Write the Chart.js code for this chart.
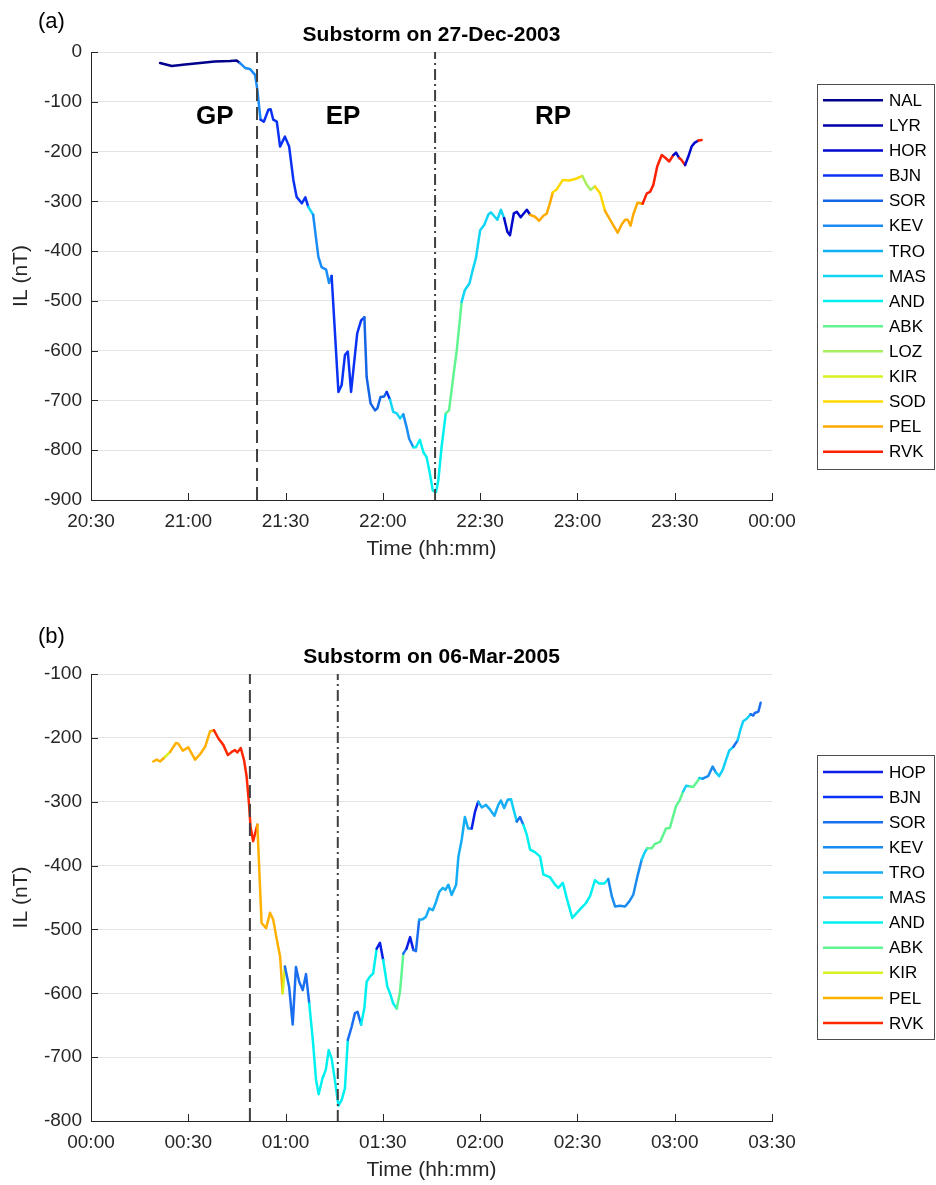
<!DOCTYPE html>
<html><head><meta charset="utf-8">
<script src="https://cdn.jsdelivr.net/npm/chart.js@4.4.1/dist/chart.umd.min.js"></script>
<style>
body{margin:0;background:#fff;width:936px;height:1185px;position:relative;overflow:hidden;font-family:"Liberation Sans",Arial,sans-serif;}
canvas{position:absolute;left:0;}
.lbl{position:absolute;font-size:22px;color:#000;z-index:5;line-height:1;}
</style></head><body>
<canvas id="c1" width="936" height="570" style="top:0"></canvas>
<canvas id="c2" width="936" height="585" style="top:600px"></canvas>
<div class="lbl" style="left:38px;top:10px">(a)</div>
<div class="lbl" style="left:38px;top:625px">(b)</div>
<script>
// ---------- Panel (a): Substorm on 27-Dec-2003 (time = minutes after 20:30) ----------
const titleA = 'Substorm on 27-Dec-2003';
const xTickLabelsA = ['20:30','21:00','21:30','22:00','22:30','23:00','23:30','00:00'];
const stationsA = ['NAL','LYR','HOR','BJN','SOR','KEV','TRO','MAS','AND','ABK','LOZ','KIR','SOD','PEL','RVK'];
const colorsA = ['#00008c','#0000aa','#0008cc','#0a32f5','#1464e6','#1a8cf5','#10b0f5','#10d5f5','#00f0f0','#60f590','#a8f060','#d8f020','#ffd800','#ffaa00','#ff2000'];
const timeA = [21.3,24.9,29,33.6,38.2,42.9,44.9,45.9,47.5,49.0,
50.6,51.3,51.9,52.3,53.3,54.7,55.4,56.2,57.3,58.3,
59.8,61.1,62.4,63.4,65.0,66.1,67.0,68.5,70.1,71.1,
72.5,73.4,74.2,76.3,77.3,78.3,79.2,80.2,82.1,83.3,
84.3,85.0,86.2,87.6,88.3,89.3,90.4,91.2,92.2,93.2,
94.3,95.3,96.3,97.3,98.1,99.4,100.2,101.4,102.5,103.5,
104.5,105.4,106.4,107.1,108.1,109.4,110.4,111.7,112.8,114.3,
115.3,116.7,117.7,118.7,120.0,121.3,122.5,123.3,125.3,126.4,
127.4,128.4,129.2,130.4,131.3,132.5,134.4,135.4,136.9,138.2,
139.5,140.5,141.5,142.4,143.6,145.5,147.5,149.8,151.5,152.9,
154.1,155.4,157.0,158.5,159.8,161.3,162.4,163.6,164.7,165.5,
166.4,167.2,168.5,170.1,171.4,172.4,173.4,174.6,176.0,177.0,
178.3,179.6,180.4,181.4,182.1,183.2,184.2,185.2,186.2,187.3,188.3];
const ilA = [-22,-28,-25,-22,-19,-18,-17,-22,-32,-34,
-46,-76,-113,-136,-140,-116,-115,-136,-140,-190,
-170,-190,-257,-291,-304,-292,-311,-327,-411,-432,
-437,-464,-450,-683,-669,-609,-602,-683,-565,-539,
-533,-653,-706,-720,-716,-693,-692,-683,-698,-723,
-726,-736,-728,-753,-777,-794,-794,-779,-804,-814,
-847,-881,-884,-861,-794,-726,-720,-653,-599,-502,
-478,-465,-438,-414,-358,-347,-327,-322,-337,-317,
-334,-361,-368,-324,-321,-332,-317,-327,-331,-339,
-329,-325,-304,-282,-276,-257,-258,-254,-249,-267,
-277,-270,-284,-319,-334,-351,-363,-347,-337,-337,
-349,-327,-303,-305,-284,-281,-267,-230,-207,-212,
-220,-207,-202,-213,-217,-227,-210,-190,-182,-178,-177];
const stA = [0,0,0,0,0,0,0,5,5,5,
5,5,5,3,3,3,3,3,3,3,
3,3,3,3,3,3,7,5,5,5,
5,5,3,3,3,3,3,3,3,3,
4,4,4,4,4,4,4,3,7,7,
7,7,5,5,5,8,8,8,8,8,
8,8,8,8,8,9,9,9,9,7,
7,7,7,7,7,7,7,7,7,7,
2,2,2,2,2,2,2,13,13,13,
13,13,13,12,12,12,12,12,10,10,
10,12,12,13,13,13,13,13,13,13,
13,13,13,14,14,14,14,14,14,14,
14,2,2,14,14,2,2,2,2,14,14];
const eventsA = [51.2, 106.1];           // growth/expansion onset, recovery onset
const phaseNamesA = ['GP','EP','RP'];
const phaseXA = [38.2, 77.7, 142.5];
const phaseYA = -130;

// ---------- Panel (b): Substorm on 06-Mar-2005 (time = minutes after 00:00) ----------
const titleB = 'Substorm on 06-Mar-2005';
const xTickLabelsB = ['00:00','00:30','01:00','01:30','02:00','02:30','03:00','03:30'];
const stationsB = ['HOP','BJN','SOR','KEV','TRO','MAS','AND','ABK','KIR','PEL','RVK'];
const colorsB = ['#0a1ee6','#0a32f5','#1a6ef0','#1a8cf0','#14acf5','#10d0f8','#00f0f0','#60f590','#d8f020','#ffb000','#ff2800'];
const timeB = [19.2,20.3,21.3,22.8,24.4,26.2,26.9,28.3,30.0,32.1,
33.6,35.2,36.7,37.9,39.3,40.8,42.2,43.4,44.4,45.1,
46.2,47.2,48.0,48.7,49.2,50.0,51.3,52.6,54.0,55.2,
56.2,57.3,58.3,59.1,59.8,61.1,62.2,63.2,64.2,65.3,
66.3,67.3,68.4,69.4,70.2,71.4,72.4,73.3,74.2,75.2,
76.3,77.3,78.3,79.2,80.4,81.4,82.2,83.3,84.3,85.0,
86.0,87.0,88.1,89.1,90.1,91.4,92.2,93.2,94.3,95.3,
96.3,97.3,98.4,99.4,100.2,101.2,102.3,103.3,104.3,105.4,
106.4,107.4,108.5,109.3,110.2,111.2,112.6,113.3,114.3,115.3,
116.3,117.4,118.4,119.4,120.5,121.8,123.0,124.4,125.6,126.4,
127.4,128.5,129.5,130.2,131.3,132.3,133.3,134.4,135.4,136.9,
138.5,139.5,141.5,143.1,144.1,145.5,146.7,148.4,149.8,151.3,
152.6,153.9,155.4,156.7,158.3,159.5,160.6,161.6,163.1,164.7,
166.0,167.2,168.5,169.8,170.6,171.5,172.9,173.9,175.5,177.3,
178.5,180.4,181.6,182.6,183.5,184.7,185.7,187.0,187.6,188.6,
190.3,191.7,192.7,193.7,194.8,195.8,196.8,198.1,199.4,200.1,
201.1,202.2,203.4,204.2,204.7,205.8,206.5];
const ilB = [-237,-234,-237,-230,-222,-208,-209,-220,-215,-234,
-226,-214,-190,-188,-201,-211,-227,-222,-219,-223,
-216,-235,-261,-302,-339,-362,-336,-490,-498,-474,
-485,-516,-542,-600,-558,-590,-649,-559,-582,-595,
-570,-616,-673,-736,-758,-733,-720,-689,-702,-736,
-776,-767,-749,-673,-652,-631,-629,-649,-623,-582,
-574,-569,-530,-521,-548,-590,-600,-616,-624,-597,
-538,-530,-512,-532,-534,-485,-484,-480,-467,-470,
-457,-441,-435,-438,-430,-446,-430,-386,-360,-324,
-342,-342,-316,-300,-309,-305,-312,-322,-305,-298,
-310,-297,-296,-310,-331,-324,-336,-352,-375,-379,
-386,-414,-418,-430,-435,-427,-451,-482,-474,-466,
-459,-448,-423,-428,-428,-421,-448,-464,-463,-464,
-456,-446,-417,-391,-381,-373,-373,-366,-363,-342,
-341,-307,-297,-284,-275,-276,-277,-268,-263,-264,
-260,-245,-254,-260,-250,-235,-220,-214,-204,-190,
-174,-170,-163,-165,-161,-159,-145];
const stB = [9,9,9,8,9,9,9,9,9,9,
9,9,9,10,10,10,10,10,10,10,
10,10,10,10,10,10,9,9,9,9,
9,9,9,8,2,2,2,2,2,2,
2,6,6,6,6,6,6,6,6,6,
6,6,6,2,2,2,2,6,6,6,
6,6,0,0,6,6,6,6,7,7,
2,0,0,2,2,4,4,4,4,4,
4,4,4,4,4,4,4,4,4,4,
4,0,0,4,4,4,4,4,4,4,
4,4,5,5,2,2,6,6,6,6,
6,6,6,6,6,6,6,6,6,6,
6,6,6,6,6,3,3,3,3,3,
3,3,3,5,5,7,7,7,7,7,
7,7,7,5,5,7,7,7,5,3,
3,3,5,5,5,5,5,2,5,5,
5,5,2,2,2,2,2];
const eventsB = [49.0, 76.1];

const FONT = '"Liberation Sans", Arial, Helvetica, sans-serif';
const AX = '#262626';

const decorPlugin = {
  id: 'decor',
  afterDatasetsDraw(chart, args, opts) {
    const {ctx, chartArea: a, scales: {x, y}} = chart;
    ctx.save();
    // phase labels
    if (opts.phases) {
      ctx.font = 'bold 26px ' + FONT;
      ctx.fillStyle = '#000'; ctx.textAlign = 'center'; ctx.textBaseline = 'middle';
      opts.phases.names.forEach((n, i) => ctx.fillText(n, x.getPixelForValue(opts.phases.xs[i]), y.getPixelForValue(opts.phases.y)));
    }
    ctx.restore();
  },
  afterDraw(chart, args, opts) {
    const {ctx, chartArea: a, scales: {x, y}} = chart;
    ctx.save();
    // inward ticks
    ctx.strokeStyle = AX; ctx.lineWidth = 1;
    ctx.beginPath();
    x.ticks.forEach(t => { const px = Math.round(x.getPixelForValue(t.value)) + 0.5; ctx.moveTo(px, a.bottom); ctx.lineTo(px, a.bottom - 7); });
    y.ticks.forEach(t => { const py = Math.round(y.getPixelForValue(t.value)) + 0.5; ctx.moveTo(a.left, py); ctx.lineTo(a.left + 7, py); });
    ctx.stroke();
    // title
    ctx.font = 'bold 21px ' + FONT;
    ctx.fillStyle = '#000'; ctx.textAlign = 'center'; ctx.textBaseline = 'middle';
    ctx.fillText(opts.title, (a.left + a.right) / 2, a.top - 17);
    // legend
    const n = opts.names.length, rowH = 25.1;
    const h = n * rowH + 8;
    const cy = (a.top + a.bottom) / 2;
    const top = cy - h / 2;
    const bx = 817.5, bw = 117;
    ctx.fillStyle = '#fff';
    ctx.fillRect(bx, top, bw, h);
    ctx.strokeStyle = '#4d4d4d'; ctx.lineWidth = 1;
    ctx.strokeRect(bx, Math.round(top) + 0.5, bw, Math.round(h));
    ctx.font = '17px ' + FONT; ctx.textAlign = 'left'; ctx.textBaseline = 'middle';
    opts.names.forEach((nm, i) => {
      const ry = top + 4 + rowH * (i + 0.5);
      ctx.strokeStyle = opts.colors[i]; ctx.lineWidth = 2.5;
      ctx.beginPath(); ctx.moveTo(823, ry); ctx.lineTo(883, ry); ctx.stroke();
      ctx.fillStyle = '#000';
      ctx.fillText(nm, 889, ry + 1);
    });
    ctx.restore();
  }
};

function makeChart(id, cfg) {
  const pts = cfg.times.map((t, i) => ({x: t, y: cfg.vals[i]}));
  const evDs = cfg.events.map((e, k) => ({
    data: [{x: e, y: cfg.ymin}, {x: e, y: cfg.ymax}],
    borderColor: '#404040', borderWidth: 2,
    borderDash: k === 0 ? [13, 6] : [11, 4, 2, 4],
    pointRadius: 0, tension: 0
  }));
  return new Chart(document.getElementById(id), {
    type: 'line',
    data: {
      datasets: evDs.concat([{
        data: pts,
        borderColor: cfg.colors[cfg.st[0]],
        borderWidth: 2.5,
        pointRadius: 0, tension: 0,
        borderCapStyle: 'round', borderJoinStyle: 'round',
        segment: { borderColor: c => cfg.colors[cfg.st[c.p0DataIndex]] }
      }])
    },
    options: {
      responsive: false, animation: false, devicePixelRatio: 1,
      layout: { padding: { top: cfg.padTop, right: 164, left: 0, bottom: 0 } },
      plugins: {
        legend: { display: false }, tooltip: { enabled: false },
        decor: { title: cfg.title, names: cfg.names, colors: cfg.colors, phases: cfg.phases }
      },
      scales: {
        x: {
          type: 'linear', min: 0, max: 210,
          afterFit: s => { s.height = cfg.xH; },
          grid: { display: false, drawTicks: false },
          border: { display: true, color: AX, width: 1 },
          ticks: { stepSize: 30, padding: 10, color: AX, font: { family: FONT, size: 19 },
                   autoSkip: false, maxRotation: 0,
                   callback: v => cfg.xLabels[Math.round(v / 30)] },
          title: { display: true, text: 'Time (hh:mm)', color: AX, font: { family: FONT, size: 21 },
                   padding: { top: 0, bottom: cfg.xTitlePad } }
        },
        y: {
          min: cfg.ymin, max: cfg.ymax,
          afterFit: s => { s.width = 91; },
          grid: { display: true, color: '#e3e3e3', lineWidth: 1, drawTicks: false },
          border: { display: true, color: AX, width: 1 },
          ticks: { stepSize: 100, padding: 9, color: AX, font: { family: FONT, size: 19 },
                   callback: v => String(v) },
          title: { display: true, text: 'IL (nT)', color: AX, font: { family: FONT, size: 21 },
                   padding: { top: 9, bottom: 0 } }
        }
      }
    },
    plugins: [decorPlugin]
  });
}

makeChart('c1', { times: timeA, vals: ilA, st: stA, colors: colorsA, names: stationsA,
  xLabels: xTickLabelsA, events: eventsA, ymin: -900, ymax: 0, padTop: 52, xH: 70, xTitlePad: 8,
  title: titleA, phases: { names: phaseNamesA, xs: phaseXA, y: phaseYA } });
makeChart('c2', { times: timeB, vals: ilB, st: stB, colors: colorsB, names: stationsB,
  xLabels: xTickLabelsB, events: eventsB, ymin: -800, ymax: -100, padTop: 74, xH: 64, xTitlePad: 2,
  title: titleB, phases: null });
</script>
</body></html>
